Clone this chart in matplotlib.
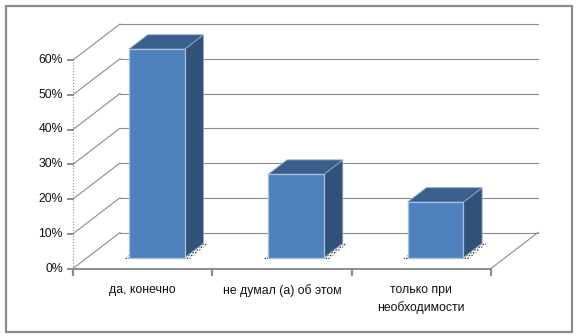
import matplotlib.pyplot as plt
from matplotlib.patches import Polygon, Rectangle

categories = ["да, конечно", "не думал (а) об этом", "только при\nнеобходимости"]
values = [60, 24, 16]
y_ticks = [0, 10, 20, 30, 40, 50, 60]
y_labels = ["0%", "10%", "20%", "30%", "40%", "50%", "60%"]

W, H = 576, 336
fig = plt.figure(figsize=(W / 100, H / 100), dpi=100)
fig.patch.set_facecolor("white")

# front plane of the 3d box, in pixels
x0, x1 = 73, 491
y0, y1 = 268.5, 60
ax = fig.add_axes([x0 / W, 1 - y0 / H, (x1 - x0) / W, (y0 - y1) / H])
ax.set_xlim(0, len(categories))
ax.set_ylim(0, 60)
ax.axis("off")

px = len(categories) / (x1 - x0)   # data units per pixel
py = 60 / (y0 - y1)
DX, DY = 47 * px, 36 * py           # full depth offset

grid_c = "#8c8c8c"
txt_c = "#111111"
fs = 8.8

# back wall gridlines + side wall diagonals
for v, lab in zip(y_ticks, y_labels):
    ax.plot([DX, len(categories) + DX], [v + DY, v + DY], color=grid_c, lw=0.8,
            clip_on=False, zorder=1)
    ax.plot([0, DX], [v, v + DY], color=grid_c, lw=0.8, clip_on=False, zorder=1)
    ax.plot([-5 * px, 0], [v, v], color=grid_c, lw=1.4, clip_on=False, zorder=2)
    ax.text(-10 * px, v, lab, ha="right", va="center",
            fontsize=fs, family="Liberation Sans", color=txt_c)

# front axis (dotted) and floor
ax.plot([0, 0], [0, 60], color=grid_c, lw=0.8, ls=":", clip_on=False, zorder=1)
ax.plot([0, len(categories)], [0, 0], color=grid_c, lw=1.4, clip_on=False, zorder=2)
ax.plot([len(categories), len(categories) + DX], [0, DY], color=grid_c, lw=0.8,
        clip_on=False, zorder=1)
for i in range(len(categories) + 1):
    ax.plot([i, i], [0, -6 * py], color=grid_c, lw=1.6, clip_on=False, zorder=2)

plt.rcParams["hatch.linewidth"] = 0.7
bw = 0.4
d0, d1 = 0.3, 0.7
for i, v in enumerate(values):
    c = i + 0.5
    fx = c - bw / 2 + d0 * DX
    fy = d0 * DY
    ddx, ddy = (d1 - d0) * DX, (d1 - d0) * DY
    # dotted shadow on the floor
    e = 5 * px
    shadow = Polygon([(fx - e, fy - 1.5 * py), (fx + bw + e, fy - 1.5 * py),
                      (fx + bw + ddx + e, fy + ddy), (fx + ddx - e, fy + ddy)],
                     closed=True, facecolor="none", edgecolor="#222222", lw=0,
                     hatch="......", clip_on=False, zorder=3)
    ax.add_patch(shadow)
    side = Polygon([(fx + bw, fy), (fx + bw + ddx, fy + ddy),
                    (fx + bw + ddx, fy + ddy + v), (fx + bw, fy + v)],
                   closed=True, facecolor="#315279", edgecolor="#8fa8c8", lw=0.6,
                   clip_on=False, zorder=4)
    top = Polygon([(fx, fy + v), (fx + bw, fy + v), (fx + bw + ddx, fy + v + ddy),
                   (fx + ddx, fy + v + ddy)],
                  closed=True, facecolor="#3b5f8d", edgecolor="#8fa8c8", lw=0.6,
                  clip_on=False, zorder=4)
    front = Rectangle((fx, fy), bw, v, facecolor="#4f81bd", edgecolor="#a9c0de",
                      lw=0.9, clip_on=False, zorder=5)
    ax.add_patch(side)
    ax.add_patch(top)
    ax.add_patch(front)

for i, cat in enumerate(categories):
    ax.text(i + 0.5, -16 * py, cat, ha="center", va="top", fontsize=fs,
            family="Liberation Sans", color=txt_c, linespacing=1.45)

# chart border
fig.add_artist(Rectangle((6 / W, 4 / H), 566 / W, 326 / H, transform=fig.transFigure,
                         facecolor="none", edgecolor="#8c8c8c", lw=1.6))

fig.savefig("out.png", dpi=100)
